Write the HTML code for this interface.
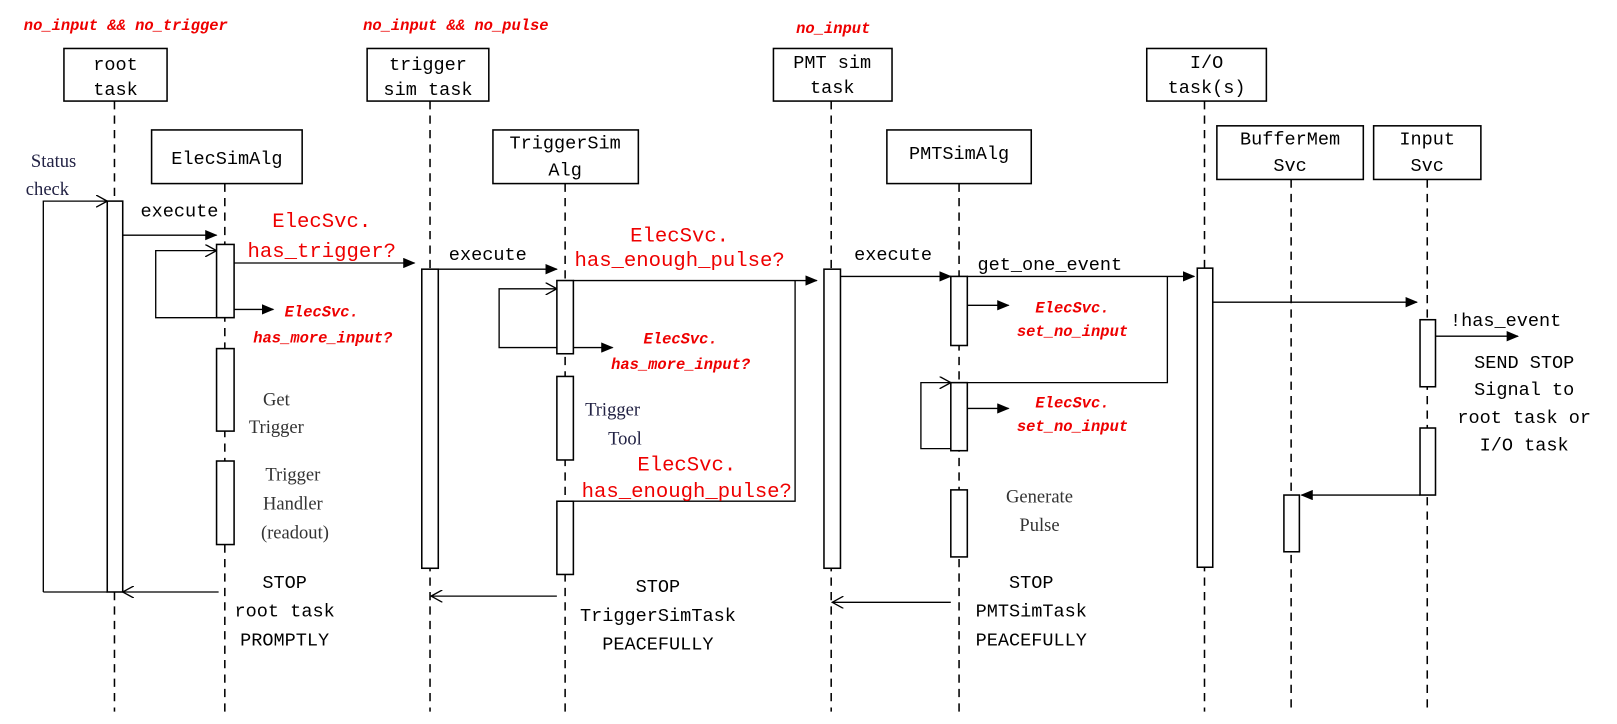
<!DOCTYPE html>
<html><head><style>body{margin:0;background:#fff}svg{display:block}</style></head><body>
<svg width="1617" height="724" viewBox="0 0 1568 702" preserveAspectRatio="none" xmlns="http://www.w3.org/2000/svg" font-family="'Liberation Mono','Noto Serif CJK SC',monospace">
<defs>
<marker id="f" markerWidth="12" markerHeight="10" refX="11" refY="5" orient="auto" markerUnits="userSpaceOnUse"><path d="M0,0L12,5L0,10z" fill="#000"/></marker>
<marker id="o" markerWidth="12" markerHeight="12" refX="11" refY="6" orient="auto" markerUnits="userSpaceOnUse"><path d="M0,0L11,6L0,12" fill="none" stroke="#000" stroke-width="1.3"/></marker>
</defs>
<g stroke="#000" stroke-width="1.5" stroke-dasharray="8,6" fill="none">
<line x1="111" y1="98" x2="111" y2="690"/><line x1="218" y1="178" x2="218" y2="690"/>
<line x1="417" y1="98" x2="417" y2="690"/><line x1="548" y1="178" x2="548" y2="690"/>
<line x1="806" y1="98" x2="806" y2="690"/><line x1="930" y1="178" x2="930" y2="690"/>
<line x1="1168" y1="98" x2="1168" y2="690"/><line x1="1252" y1="174" x2="1252" y2="690"/>
<line x1="1384" y1="174" x2="1384" y2="690"/>
</g>
<g stroke="#000" stroke-width="1.5" fill="#fff">
<rect x="62" y="47" width="100" height="51"/><rect x="356" y="47" width="118" height="51"/>
<rect x="750" y="47" width="115" height="51"/><rect x="1112" y="47" width="116" height="51"/>
<rect x="147" y="126" width="146" height="52"/><rect x="478" y="126" width="141" height="52"/>
<rect x="860" y="126" width="140" height="52"/><rect x="1180" y="122" width="142" height="52"/>
<rect x="1332" y="122" width="104" height="52"/>
</g>
<g stroke="#000" stroke-width="1.3" fill="none">
<polyline points="42,574 42,195 104,195" marker-end="url(#o)"/>
<line x1="42" y1="574" x2="104" y2="574"/>
<polyline points="210,308 151,308 151,243 210,243" marker-end="url(#o)"/>
<polyline points="540,337 484,337 484,280 540,280" marker-end="url(#o)"/>
<polyline points="922,435 893,435 893,371 922,371" marker-end="url(#o)"/>
<polyline points="938,371 1132,371 1132,268"/>
<polyline points="556,486 771,486 771,272"/>
<line x1="119" y1="228" x2="210" y2="228" marker-end="url(#f)"/>
<line x1="227" y1="300" x2="265" y2="300" marker-end="url(#f)"/>
<line x1="227" y1="255" x2="402" y2="255" marker-end="url(#f)"/>
<line x1="425" y1="261" x2="540" y2="261" marker-end="url(#f)"/>
<line x1="556" y1="337" x2="594" y2="337" marker-end="url(#f)"/>
<line x1="556" y1="272" x2="792" y2="272" marker-end="url(#f)"/>
<line x1="815" y1="268" x2="922" y2="268" marker-end="url(#f)"/>
<line x1="938" y1="268" x2="1158" y2="268" marker-end="url(#f)"/>
<line x1="938" y1="296" x2="978" y2="296" marker-end="url(#f)"/>
<line x1="938" y1="396" x2="978" y2="396" marker-end="url(#f)"/>
<line x1="1176" y1="293" x2="1374" y2="293" marker-end="url(#f)"/>
<line x1="1392" y1="326" x2="1472" y2="326" marker-end="url(#f)"/>
<line x1="1377" y1="480" x2="1262" y2="480" marker-end="url(#f)"/>
<line x1="212" y1="574" x2="119" y2="574" marker-end="url(#o)"/>
<line x1="540" y1="578" x2="418" y2="578" marker-end="url(#o)"/>
<line x1="922" y1="584" x2="807" y2="584" marker-end="url(#o)"/>
</g>
<g stroke="#000" stroke-width="1.5" fill="#fff">
<rect x="104" y="195" width="15" height="379"/>
<rect x="210" y="237" width="17" height="71"/><rect x="210" y="338" width="17" height="80"/><rect x="210" y="447" width="17" height="81"/>
<rect x="409" y="261" width="16" height="290"/>
<rect x="540" y="272" width="16" height="71"/><rect x="540" y="365" width="16" height="81"/><rect x="540" y="486" width="16" height="71"/>
<rect x="799" y="261" width="16" height="290"/>
<rect x="922" y="268" width="16" height="67"/><rect x="922" y="371" width="16" height="66"/><rect x="922" y="475" width="16" height="65"/>
<rect x="1161" y="260" width="15" height="290"/>
<rect x="1377" y="310" width="15" height="65"/><rect x="1377" y="415" width="15" height="65"/>
<rect x="1245" y="480" width="15" height="55"/>
</g>
<g font-size="18" text-anchor="middle" fill="#000">
<text x="112" y="68">root</text><text x="112" y="92">task</text>
<text x="415" y="68">trigger</text><text x="415" y="92">sim task</text>
<text x="807" y="66">PMT sim</text><text x="807" y="90">task</text>
<text x="1170" y="66">I/O</text><text x="1170" y="90">task(s)</text>
<text x="220" y="159">ElecSimAlg</text>
<text x="548" y="144">TriggerSim</text><text x="548" y="170">Alg</text>
<text x="930" y="154">PMTSimAlg</text>
<text x="1251" y="140">BufferMem</text><text x="1251" y="166">Svc</text>
<text x="1384" y="140">Input</text><text x="1384" y="166">Svc</text>
<text x="174" y="210">execute</text><text x="473" y="252">execute</text><text x="866" y="252">execute</text>
<text x="1018" y="262">get_one_event</text><text x="1460" y="316">!has_event</text>
<text x="1478" y="357">SEND STOP</text><text x="1478" y="383">Signal to</text><text x="1478" y="410">root task or</text><text x="1478" y="437">I/O task</text>
<text x="276" y="570">STOP</text><text x="276" y="598">root task</text><text x="276" y="626">PROMPTLY</text>
<text x="638" y="574">STOP</text><text x="638" y="602">TriggerSimTask</text><text x="638" y="630">PEACEFULLY</text>
<text x="1000" y="570">STOP</text><text x="1000" y="598">PMTSimTask</text><text x="1000" y="626">PEACEFULLY</text>
</g>
<g font-size="18" text-anchor="middle" fill="#333" font-family="'Liberation Serif','Noto Serif CJK SC',serif">
<text x="52" y="162" fill="#224">Status</text><text x="46" y="189" fill="#224">check</text>
<text x="268" y="393">Get</text><text x="268" y="420">Trigger</text>
<text x="284" y="466">Trigger</text><text x="284" y="494">Handler</text><text x="286" y="522">(readout)</text>
<text x="594" y="403" fill="#224">Trigger</text><text x="606" y="431" fill="#224">Tool</text>
<text x="1008" y="487">Generate</text><text x="1008" y="515">Pulse</text>
</g>
<g font-size="20" text-anchor="middle" fill="#e00">
<text x="312" y="220">ElecSvc.</text><text x="312" y="249">has_trigger?</text>
<text x="659" y="234">ElecSvc.</text><text x="659" y="258">has_enough_pulse?</text>
<text x="666" y="456">ElecSvc.</text><text x="666" y="482">has_enough_pulse?</text>
</g>
<g font-size="15" font-style="italic" font-weight="bold" text-anchor="middle" fill="#e00">
<text x="122" y="29">no_input &amp;&amp; no_trigger</text>
<text x="442" y="29">no_input &amp;&amp; no_pulse</text>
<text x="808" y="32">no_input</text>
<text x="312" y="307">ElecSvc.</text><text x="313" y="332">has_more_input?</text>
<text x="660" y="333">ElecSvc.</text><text x="660" y="358">has_more_input?</text>
<text x="1040" y="303">ElecSvc.</text><text x="1040" y="326">set_no_input</text>
<text x="1040" y="395">ElecSvc.</text><text x="1040" y="418">set_no_input</text>
</g>
</svg>
</body></html>
